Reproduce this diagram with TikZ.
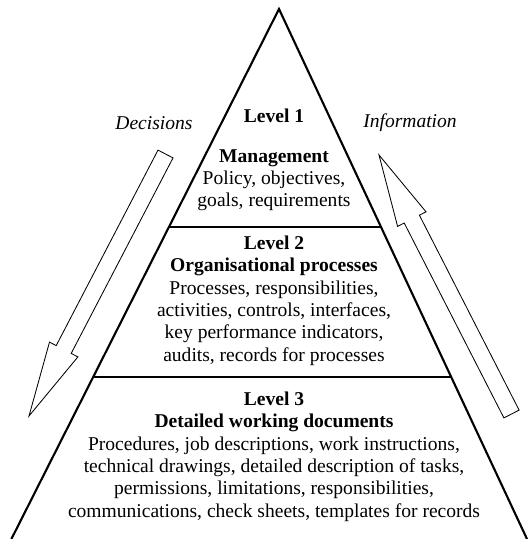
\documentclass[tikz,border=0pt]{standalone}
\usepackage{fontspec}
\setmainfont{Liberation Serif}
\usetikzlibrary{calc}
\tikzset{
  pyramid/.style={line width=1.5pt},
  flowarrow/.style={draw, line width=0.6pt, line join=miter},
  tier/.style={align=center, inner sep=0pt, font=\fontsize{13.9}{15.9}\selectfont},
  flowlabel/.style={inner sep=0pt, font=\fontsize{13.9}{15.9}\selectfont\itshape}
}
\begin{document}
\begin{tikzpicture}[x=0.025cm, y=-0.025cm]
	\useasboundingbox (0,0) rectangle (527,539);
	% pyramid outline
	\coordinate (apex) at (279,9);
	\coordinate (bl) at (11.4,539);
	\coordinate (br) at (527,539);
	\draw[pyramid] (bl) -- (apex) -- (br);
	% level dividers
	\coordinate (d1l) at ($(apex)!0.4113!(bl)$);
	\coordinate (d1r) at ($(apex)!0.4113!(br)$);
	\coordinate (d2l) at ($(apex)!0.6943!(bl)$);
	\coordinate (d2r) at ($(apex)!0.6943!(br)$);
	\draw[pyramid] (d1l) -- (d1r);
	\draw[pyramid] (d2l) -- (d2r);
	% level texts
	\node[tier, font=\fontsize{13.9}{15.9}\selectfont\bfseries] (lvl1) at (274,116) {Level 1};
	\node[tier] (mgmt) at (274,180.3) {\textbf{Management}\\Policy, objectives,\\goals, requirements};
	\node[tier] (lvl2) at (274,300.5) {\textbf{Level 2}\\\textbf{Organisational processes}\\Processes, responsibilities,\\activities, controls, interfaces,\\key performance indicators,\\audits, records for processes};
	\node[tier] (lvl3) at (274,456.7) {\textbf{Level 3}\\\textbf{Detailed working documents}\\Procedures, job descriptions, work instructions,\\technical drawings, detailed description of tasks,\\permissions, limitations, responsibilities,\\communications, check sheets, templates for records};
	% flow arrows
	\node[flowlabel] (dec) at (154,123) {Decisions};
	\node[flowlabel] (inf) at (410,123) {Information};
	\draw[flowarrow] (158.0,150.1) -- (56.2,345.6) -- (49.5,342.1) -- (29,416)
		-- (77.9,356.9) -- (71.2,353.4) -- (173.0,157.9) -- cycle;
	\draw[flowarrow] (519.1,410.1) -- (419.4,215.2) -- (426.0,211.8) -- (379,155)
		-- (397.6,226.4) -- (404.2,223.0) -- (503.9,417.9) -- cycle;
\end{tikzpicture}
\end{document}
